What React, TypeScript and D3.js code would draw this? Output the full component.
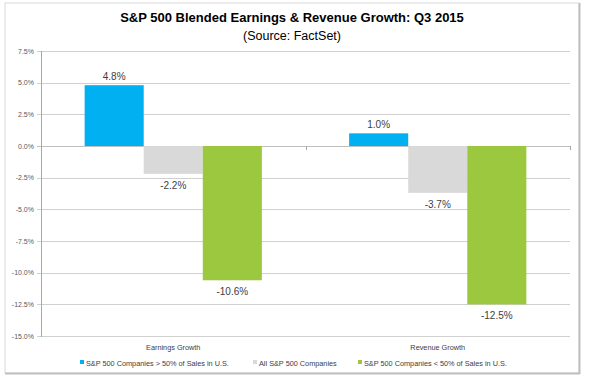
import React from "react";
import * as d3 from "d3";

const categories = ["Earnings Growth", "Revenue Growth"];
const seriesNames = [
  "S&P 500 Companies > 50% of Sales in U.S.",
  "All S&P 500 Companies",
  "S&P 500 Companies < 50% of Sales in U.S.",
];
const earningsValues = [4.8, -2.2, -10.6];
const revenueValues = [1.0, -3.7, -12.5];
const yTicks = [7.5, 5.0, 2.5, 0.0, -2.5, -5.0, -7.5, -10.0, -12.5, -15.0];
const seriesColors = ["#00B0F0", "#D9D9D9", "#9BC83E"];

const W = 589;
const H = 381;
const FONT = "'Liberation Sans', Arial, sans-serif";

export default function App() {
  const plotLeft = 41;
  const plotRight = 570;
  const plotTop = 51;
  const plotBottom = 336;

  const y = d3.scaleLinear().domain([-15, 7.5]).range([plotBottom, plotTop]);
  const x0 = d3.scaleBand<string>().domain(categories).range([plotLeft, plotRight]).padding(0);
  const bw = x0.bandwidth();
  const gap = bw * 0.165;
  const x1 = d3.scaleBand<string>().domain(seriesNames).range([gap, bw - gap]).padding(0);

  const valuesByCat = [earningsValues, revenueValues];
  const fmt = (v: number) => v.toFixed(1) + "%";

  const legendX = [80, 253, 358];
  const legendY = 363;

  return (
    <svg
      width={W}
      height={H}
      style={{ position: "absolute", left: 0, top: 0, background: "#fff" }}
      fontFamily={FONT}
    >
      {/* outer frame */}
      <rect x={5} y={3} width={574} height={370} fill="#fff" stroke="#d9d9d9" strokeWidth={1} />
      <line x1={579.5} y1={3} x2={579.5} y2={374} stroke="#bfbfbf" strokeWidth={2} />
      <line x1={5} y1={373.5} x2={580} y2={373.5} stroke="#bfbfbf" strokeWidth={2} />

      {/* title */}
      <text x={292} y={22} textAnchor="middle" fontSize={13} fontWeight="bold" fill="#000">
        S&amp;P 500 Blended Earnings &amp; Revenue Growth: Q3 2015
      </text>
      <text x={292} y={39.5} textAnchor="middle" fontSize={12.5} fill="#000">
        (Source: FactSet)
      </text>

      {/* gridlines + y ticks */}
      {yTicks.map((t) => (
        <g key={t}>
          <line
            x1={plotLeft - 4}
            x2={plotRight}
            y1={Math.round(y(t)) + 0.5}
            y2={Math.round(y(t)) + 0.5}
            stroke={t === 0 ? "#c0c0c0" : "#d0d0d0"}
            strokeWidth={1}
          />
          <text
            x={34}
            y={y(t) + 2.5}
            textAnchor="end"
            fontSize={7}
            fill="#595959"
          >
            {fmt(t)}
          </text>
        </g>
      ))}
      {/* y axis line */}
      <line x1={plotLeft + 0.5} x2={plotLeft + 0.5} y1={plotTop} y2={plotBottom + 1} stroke="#a6a6a6" />

      {/* category boundary ticks on zero line */}
      {[...categories.map((c) => x0(c) as number), plotRight].map((xv, i) => (
        <line
          key={i}
          x1={Math.round(xv) + 0.5}
          x2={Math.round(xv) + 0.5}
          y1={y(0)}
          y2={y(0) + 4}
          stroke="#a6a6a6"
        />
      ))}

      {/* bars */}
      {categories.map((c, ci) =>
        seriesNames.map((s, si) => {
          const v = valuesByCat[ci][si];
          const bx = (x0(c) as number) + (x1(s) as number);
          const y0 = y(0);
          const yv = y(v);
          const top = Math.min(y0, yv);
          const h = Math.abs(yv - y0);
          const bwid = x1.bandwidth();
          return (
            <g key={c + s}>
              <rect x={bx} y={top} width={bwid} height={h} fill={seriesColors[si]} />
              <text
                x={bx + bwid / 2}
                y={v >= 0 ? yv - 5 : yv + 15}
                textAnchor="middle"
                fontSize={10}
                fill="#404040"
              >
                {fmt(v)}
              </text>
            </g>
          );
        })
      )}

      {/* category labels */}
      {categories.map((c) => (
        <text
          key={c}
          x={(x0(c) as number) + bw / 2}
          y={350}
          textAnchor="middle"
          fontSize={7.3}
          fill="#404040"
        >
          {c}
        </text>
      ))}

      {/* legend */}
      {seriesNames.map((s, i) => (
        <g key={s}>
          <rect x={legendX[i]} y={legendY - 3} width={4} height={4} fill={seriesColors[i]} />
          <text x={legendX[i] + 6} y={legendY + 2.5} fontSize={7.3} fill="#404040">
            {s}
          </text>
        </g>
      ))}
    </svg>
  );
}
